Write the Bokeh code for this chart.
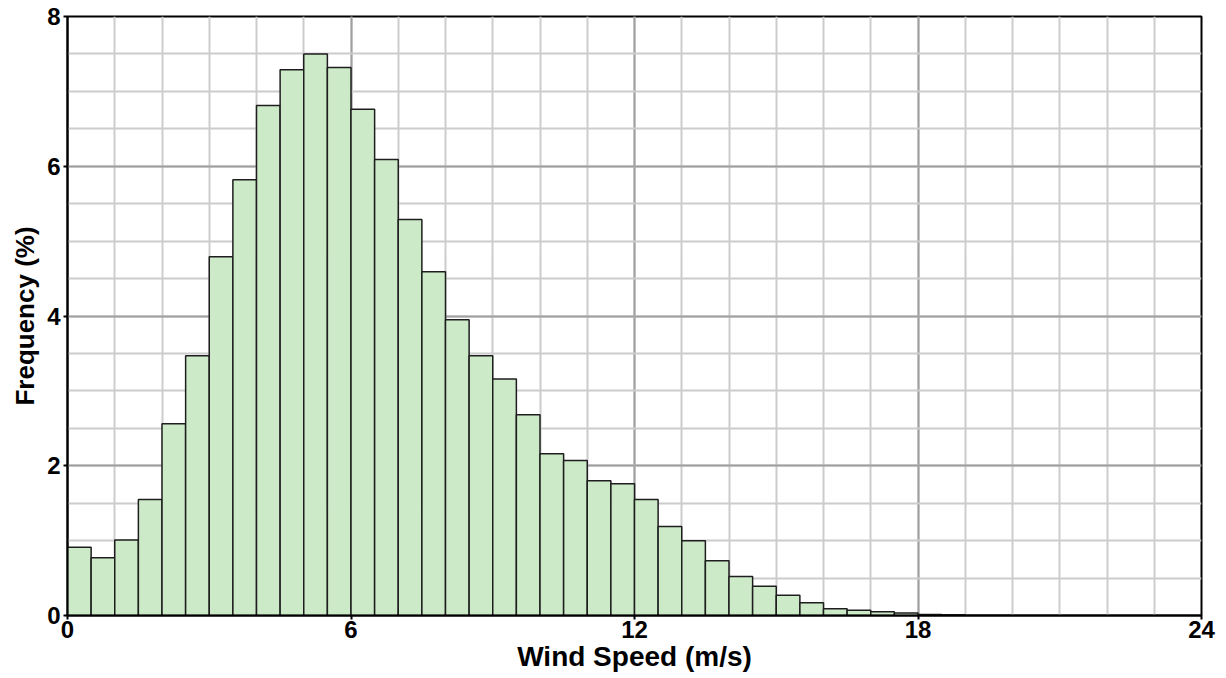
from bokeh.plotting import figure
from bokeh.models import FixedTicker, ColumnDataSource
from bokeh.embed import file_html
from bokeh.resources import INLINE

bin_left = [i * 0.5 for i in range(40)]
freq = [0.91, 0.77, 1.01, 1.55, 2.56, 3.47, 4.79, 5.82, 6.81, 7.29,
        7.50, 7.32, 6.76, 6.09, 5.29, 4.59, 3.95, 3.47, 3.16, 2.68,
        2.16, 2.07, 1.80, 1.76, 1.55, 1.19, 1.00, 0.73, 0.52, 0.39,
        0.27, 0.17, 0.09, 0.07, 0.05, 0.035, 0.012, 0.01, 0.0, 0.0]
x_major = [0, 6, 12, 18, 24]
y_major = [0, 2, 4, 6, 8]

src = ColumnDataSource(dict(left=bin_left, right=[b + 0.5 for b in bin_left], top=freq))

p = figure(width=1218, height=675, x_range=(0, 24), y_range=(0, 8),
           output_backend="svg", toolbar_location=None,
           min_border_left=67, min_border_top=16, min_border_right=17, min_border_bottom=60)

p.quad(left="left", right="right", bottom=0, top="top", source=src,
       fill_color="#cdeac8", line_color="#1e1e1e", line_width=1.5)

p.xaxis.ticker = FixedTicker(ticks=x_major, minor_ticks=list(range(0, 25)))
p.yaxis.ticker = FixedTicker(ticks=y_major, minor_ticks=[i * 0.5 for i in range(17)])

for g in (p.xgrid, p.ygrid):
    g.grid_line_color = "#a0a0a0"
    g.grid_line_width = 2
    g.minor_grid_line_color = "#cccccc"
    g.minor_grid_line_width = 2
    g.level = "underlay"

for ax in (p.xaxis, p.yaxis):
    ax.axis_line_color = "black"
    ax.axis_line_width = 2
    ax.major_tick_line_color = "black"
    ax.major_tick_line_width = 2
    ax.major_tick_out = 4
    ax.major_tick_in = 0
    ax.minor_tick_line_color = None
    ax.major_label_text_font = "Liberation Sans"
    ax.major_label_text_font_style = "bold"
    ax.major_label_text_font_size = "24px"
    ax.major_label_text_color = "black"
    ax.axis_label_text_font = "Liberation Sans"
    ax.axis_label_text_font_style = "bold"
    ax.axis_label_text_color = "black"

p.xaxis.axis_label = "Wind Speed (m/s)"
p.yaxis.axis_label = "Frequency (%)"
p.xaxis.axis_label_text_font_size = "28px"
p.yaxis.axis_label_text_font_size = "26px"
p.xaxis.major_label_standoff = 1
p.xaxis.axis_label_standoff = 0
p.yaxis.major_label_standoff = 3
p.yaxis.axis_label_standoff = 4

p.outline_line_color = "black"
p.outline_line_width = 2
p.background_fill_color = "white"
p.border_fill_color = "white"

open("out.html", "w").write(file_html(p, INLINE))
